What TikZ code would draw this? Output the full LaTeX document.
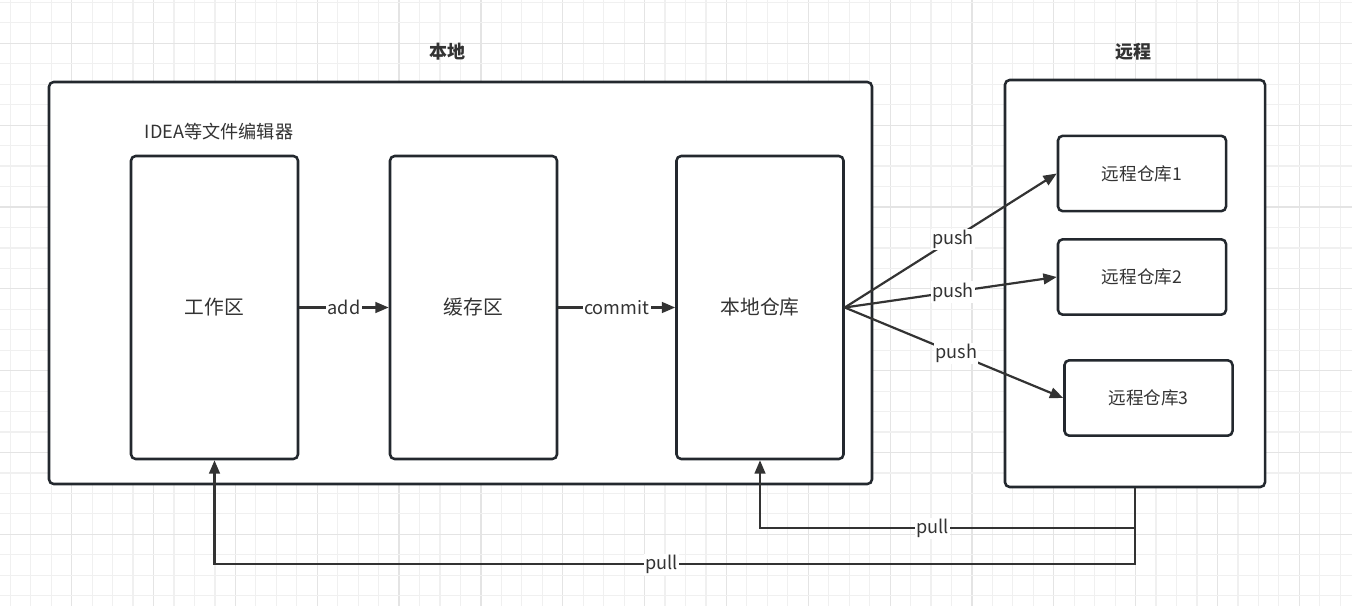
\documentclass[tikz,border=0pt]{standalone}
\usepackage{fontspec}
\setmainfont{Noto Sans CJK SC}
\usetikzlibrary{arrows.meta}
\definecolor{edge}{HTML}{23282E}
\definecolor{ink}{HTML}{333333}
\definecolor{gridA}{HTML}{F0F0F0}
\definecolor{gridB}{HTML}{E4E4E4}
\tikzset{
  boxA/.style={draw=edge, line width=1.9pt, rounded corners=3.5pt, fill=white, text=ink, inner sep=0pt},
  lbox/.style={boxA, minimum width=125.25pt, minimum height=227.25pt, font=\fontsize{14.8}{16}\selectfont},
  rbox/.style={boxA, minimum width=126pt, minimum height=56.5pt, font=\fontsize{13.2}{15}\selectfont},
  conn/.style={draw=ink, line width=1.65pt, -{Triangle[length=10pt,width=8pt]}},
  lbl/.style={fill=white, text=ink, inner sep=1pt, font=\fontsize{13.6}{15}\selectfont},
  ttl/.style={text=ink, font=\fontsize{13.5}{15}\selectfont\bfseries}
}
\begin{document}
\begin{tikzpicture}[x=0.75pt,y=-0.75pt]
\useasboundingbox (0,0) rectangle (1352,606);
\fill[white] (0,0) rectangle (1352,606);
% grid
\foreach \k in {-3,...,62} {
  \pgfmathsetmacro{\xx}{71.7+20.46*\k}
  \pgfmathtruncatemacro{\m}{mod(\k+40,4)}
  \ifnum\m=0
    \draw[gridB, line width=0.9pt] (\xx,0) -- (\xx,606);
  \else
    \draw[gridA, line width=0.9pt] (\xx,0) -- (\xx,606);
  \fi
}
\foreach \k in {-2,...,28} {
  \pgfmathsetmacro{\yy}{43.3+20.46*\k}
  \pgfmathtruncatemacro{\m}{mod(\k+40,4)}
  \ifnum\m=0
    \draw[gridB, line width=0.9pt] (0,\yy) -- (1352,\yy);
  \else
    \draw[gridA, line width=0.9pt] (0,\yy) -- (1352,\yy);
  \fi
}
% titles
\node[ttl] (t1) at (447,52) {本地};
\node[ttl] (t2) at (1133,52) {远程};
% containers
\node[boxA, minimum width=617.25pt, minimum height=301.5pt] (local) at (460.5,283) {};
\node[boxA, minimum width=195pt, minimum height=305.25pt] (remote) at (1135,283.5) {};
\node[text=ink, font=\fontsize{13.6}{15}\selectfont] (idea) at (219,132) {IDEA等文件编辑器};
% local boxes
\node[lbox] (gz) at (214.5,307.5) {工作区};
\node[lbox] (hc) at (473.5,307.5) {缓存区};
\node[lbox] (bd) at (760,307.5) {本地仓库};
% remote boxes
\node[rbox] (r1) at (1142,173.5) {远程仓库1};
\node[rbox] (r2) at (1142,277) {远程仓库2};
\node[rbox] (r3) at (1148.5,398) {远程仓库3};
% connectors
\draw[conn] (gz.east) -- node[lbl]{add} (hc.west);
\draw[conn] (hc.east) -- node[lbl]{commit} (bd.west);
\draw[conn] (bd.east) -- node[lbl, pos=0.51]{push} (r1.west);
\draw[conn] (bd.east) -- node[lbl, pos=0.51]{push} (r2.west);
\draw[conn] (bd.east) -- node[lbl, pos=0.51]{push} (r3.west);
\draw[conn] (remote.south) -- ++(0,40) -| node[lbl, pos=0.27]{pull} (bd.south);
\draw[conn] (remote.south) -- ++(0,76) -| node[lbl, pos=0.257]{pull} (gz.south);
\end{tikzpicture}
\end{document}
